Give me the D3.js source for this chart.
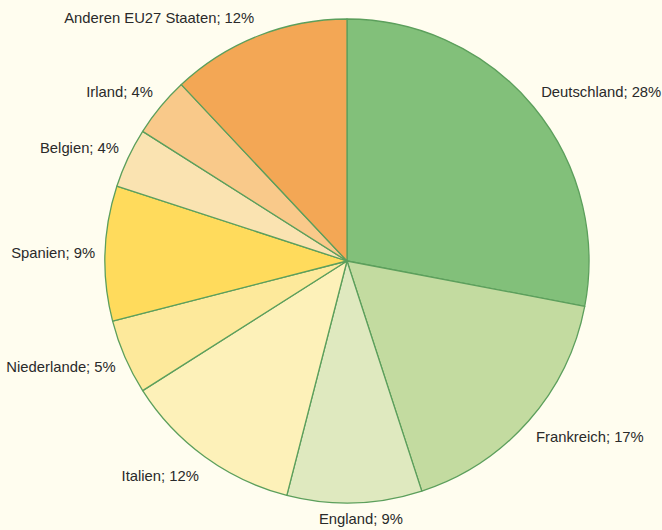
<!DOCTYPE html>
<html>
<head>
<meta charset="utf-8">
<script src="https://cdn.jsdelivr.net/npm/d3@7"></script>
<style>
  body{margin:0;background:#fffdef;}
  svg{display:block;}
  text{font-family:"Liberation Sans",Arial,sans-serif;font-size:14.8px;fill:#2a2a2a;}
</style>
</head>
<body>
<div class="box"></div>
<script>
const laender=['Deutschland','Frankreich','England','Italien','Niederlande','Spanien','Belgien','Irland','Anderen EU27 Staaten'];
const anteile=[28,17,9,12,5,9,4,4,12];
const farben=['#82c07a','#c3dba0','#dfe9bf','#fdf1b9','#fde99b','#ffdb5c','#fae3b1','#f9c98a','#f3a755'];

const dims={width:662,height:530,radius:242};
const centre={x:347,y:261};

const donnees=laender.map((nom,i)=>({nom:nom,prix:anteile[i]}));

const svg=d3.select('.box')
    .append('svg')
    .attr('width',dims.width)
    .attr('height',dims.height);

svg.append('rect')
    .attr('width',dims.width)
    .attr('height',dims.height)
    .attr('fill','#fffdef');

const graph=svg.append('g')
    .attr('transform',`translate(${centre.x},${centre.y})`);

const pie=d3.pie()
    .sort(null)
    .value(d=>d.prix);

const arcPath=d3.arc()
    .outerRadius(dims.radius)
    .innerRadius(0);

const couleur=d3.scaleOrdinal()
    .domain(laender)
    .range(farben);

graph.selectAll('path')
    .data(pie(donnees))
    .enter()
    .append('path')
    .attr('d',arcPath)
    .attr('fill',d=>couleur(d.data.nom))
    .attr('stroke','#5c9f5c')
    .attr('stroke-width',1.3)
    .attr('stroke-linejoin','round');

const milieu=d=>(d.startAngle+d.endAngle)/2;
const ancre=d=>{
    const s=Math.sin(milieu(d));
    if(Math.abs(s)<0.1) return 'middle';
    return s>0 ? 'start' : 'end';
};

// labels outside, kept inside the picture
graph.selectAll('text')
    .data(pie(donnees))
    .enter()
    .append('text')
    .attr('x',d=>252*Math.sin(milieu(d))+(ancre(d)=='middle'?6:0))
    .attr('y',d=>{
        const y=-266*Math.cos(milieu(d));
        return Math.max(18-centre.y,Math.min(dims.height-11-centre.y,y));
    })
    .attr('dy','0.35em')
    .attr('text-anchor',ancre)
    .text(d=>`${d.data.nom}; ${d.data.prix}%`);
</script>
</body>
</html>
